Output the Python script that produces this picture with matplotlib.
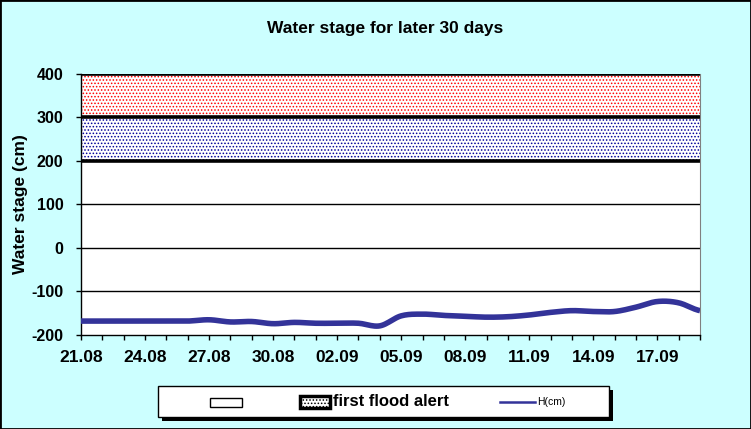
import matplotlib
matplotlib.use("Agg")
import matplotlib.pyplot as plt
import numpy as np
from matplotlib.patches import Rectangle
from matplotlib.lines import Line2D
import datetime as dt

plt.rcParams['font.family'] = ['Liberation Sans', 'DejaVu Sans']
plt.rcParams['hatch.linewidth'] = 0.7

title = "Water stage for later 30 days"
ylabel = "Water stage (cm)"
start_date = dt.date(2000, 8, 21)
levels_h = [-168, -168, -168, -168, -168, -168, -165, -170, -169, -174,
            -171, -173, -173, -173, -179, -156, -152, -155, -157, -159,
            -158, -154, -148, -144, -146, -146, -136, -123, -126, -144]
band_low = [200, 300]
band_high = [300, 400]
band_colors = ['#000099', '#FF0000']
yticks = [-200, -100, 0, 100, 200, 300, 400]
legend_labels = ['', 'first flood alert', 'H(cm)']
line_color = '#333399'

days = np.arange(len(levels_h))
W, H = 751, 429

fig = plt.figure(figsize=(W / 100, H / 100), dpi=100, facecolor='#CCFFFF')
fig.patches.append(Rectangle((0, 0), 1, 1, transform=fig.transFigure,
                             fill=False, edgecolor='black', linewidth=2))
ax = fig.add_axes([81 / W, 1 - 335 / H, (700 - 81) / W, (335 - 74) / H])
ax.set_facecolor('white')

for lo, hi, c in zip(band_low, band_high, band_colors):
    ax.fill_between([days[0], days[-1]], lo, hi, facecolor='white',
                    edgecolor=c, hatch='.....', linewidth=0, zorder=1)
for y in yticks:
    if y == -200:
        continue
    lw = 2.6 if y >= 200 else 1.0
    ax.axhline(y, color='black', linewidth=lw, zorder=2)

# smooth curve through the daily points (Catmull-Rom)
x = days.astype(float)
yv = np.array(levels_h, dtype=float)
xs, ys = [], []
for i in range(len(x) - 1):
    p0 = yv[max(i - 1, 0)]; p1 = yv[i]; p2 = yv[i + 1]; p3 = yv[min(i + 2, len(x) - 1)]
    t = np.linspace(0, 1, 12, endpoint=False)
    yy = 0.5 * ((2 * p1) + (-p0 + p2) * t + (2 * p0 - 5 * p1 + 4 * p2 - p3) * t ** 2
                + (-p0 + 3 * p1 - 3 * p2 + p3) * t ** 3)
    xs.extend(x[i] + t); ys.extend(yy)
xs.append(x[-1]); ys.append(yv[-1])
ax.plot(xs, ys, color=line_color, linewidth=4, solid_capstyle='butt', zorder=3)

ax.set_xlim(days[0], days[-1])
ax.set_ylim(-200, 400)
ax.set_yticks(yticks)
ax.set_yticklabels([str(v) for v in yticks], fontsize=11.5, fontweight='bold')
major = days[::3]
ax.set_xticks(major)
ax.set_xticklabels([(start_date + dt.timedelta(days=int(d))).strftime('%d.%m') for d in major],
                   fontsize=12.5, fontweight='bold')
ax.set_xticks(days, minor=True)
ax.tick_params(axis='both', which='both', direction='out', length=3.6, width=1, color='black')
ax.tick_params(axis='x', which='both', pad=7.5)
ax.tick_params(axis='y', which='both', pad=9)
ax.set_ylabel(ylabel, fontsize=12.5, fontweight='bold')
ax.yaxis.set_label_coords((28 - 81) / (700 - 81), 0.5)
ax.spines['top'].set_visible(False)
ax.spines['right'].set_color('#808080')
ax.spines['left'].set_linewidth(1)
ax.spines['bottom'].set_linewidth(1)

fig.text(385 / W, 1 - 28 / H, title, ha='center', va='center', fontsize=12.5, fontweight='bold')

# legend drawn in pixel coordinates
lax = fig.add_axes([0, 0, 1, 1], facecolor='none')
lax.set_xlim(0, W); lax.set_ylim(H, 0); lax.axis('off')
lax.add_patch(Rectangle((162, 390), 451, 31, facecolor='black', edgecolor='none'))
lax.add_patch(Rectangle((158, 386), 451, 31, facecolor='white', edgecolor='black', linewidth=1))
lax.add_patch(Rectangle((210, 397.5), 32, 9, facecolor='white', edgecolor='black', linewidth=1))
lax.add_patch(Rectangle((299.5, 396), 30, 12, facecolor='white', edgecolor='black',
                        hatch='.....', linewidth=2.5))
lax.text(333, 402, legend_labels[1], ha='left', va='center', fontsize=12, fontweight='bold')
lax.add_line(Line2D([500, 535], [402, 402], color=line_color, linewidth=1.8))
lax.text(537, 402, legend_labels[2], ha='left', va='center', fontsize=7.5)

fig.savefig('out.png', dpi=100, facecolor=fig.get_facecolor())
